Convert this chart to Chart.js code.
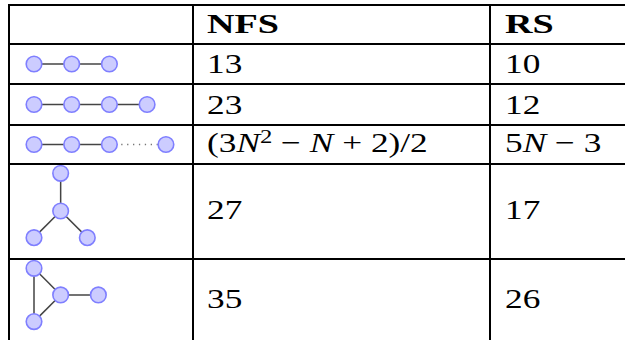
<!DOCTYPE html>
<html>
<head>
<meta charset="utf-8">
<script src="https://cdn.jsdelivr.net/npm/chart.js@4/dist/chart.umd.min.js"></script>
<style>
    body { margin: 0; background: #fff; }
    #sheet { position: relative; width: 625px; height: 340px; overflow: hidden; font-family: "Liberation Serif", serif; }
    .hline { position: absolute; left: 8px; width: 640px; height: 2px; background: #000; z-index: 2; }
    .vline { position: absolute; top: 4px; width: 2px; height: 360px; background: #000; z-index: 2; }
    .cell { position: absolute; font-size: 28px; line-height: 28px; white-space: nowrap; color: #000;
            transform: scaleX(1.26); transform-origin: 0 0; z-index: 3; }
    .cell.head { font-weight: bold; transform: scaleX(1.36); }
    .cell .sup { position: relative; top: -0.45em; font-size: 0.7em; }
    canvas { position: absolute; z-index: 1; }
</style>
</head>
<body>
<div id="sheet"></div>
<script>
const columnHeaders = ['NFS', 'RS'];
const nfsCounts = ['13', '23', '(3N^2 − N + 2)/2', '27', '35'];
const rsCounts = ['10', '12', '5N − 3', '17', '26'];

// small graphs of the first column, node coordinates in edge lengths
const path3Nodes = [[0, 0], [1, 0], [2, 0]];
const path3Edges = [[0, 1], [1, 2]];
const path4Nodes = [[0, 0], [1, 0], [2, 0], [3, 0]];
const path4Edges = [[0, 1], [1, 2], [2, 3]];
const pathNNodes = [[0, 0], [1, 0], [2, 0], [3.5, 0]];
const pathNEdges = [[0, 1], [1, 2]];
const pathNDotted = [[2, 3]];
const starNodes = [[0, 1], [0, 0], [-0.707, -0.707], [0.707, -0.707]];
const starEdges = [[0, 1], [1, 2], [1, 3]];
const triNodes = [[-0.707, 0.707], [0, 0], [1, 0], [-0.707, -0.707]];
const triEdges = [[0, 3], [0, 1], [3, 1], [1, 2]];

const graphs = [
    { nodes: path3Nodes, edges: path3Edges, dotted: [] },
    { nodes: path4Nodes, edges: path4Edges, dotted: [] },
    { nodes: pathNNodes, edges: pathNEdges, dotted: pathNDotted },
    { nodes: starNodes, edges: starEdges, dotted: [] },
    { nodes: triNodes, edges: triEdges, dotted: [] }
];

document.addEventListener('DOMContentLoaded', function() {
    const sheet = document.getElementById('sheet');
    const rowLines = [5, 44, 84, 125, 164, 259, 341];
    const colLines = [9, 193, 490];
    const baselines = [33.5, 73.5, 114, 152, 219.5, 308];
    const unit = 37.7;

    rowLines.forEach(y => {
        const line = document.createElement('div');
        line.className = 'hline';
        line.style.top = (y - 1) + 'px';
        sheet.appendChild(line);
    });
    colLines.forEach(x => {
        const line = document.createElement('div');
        line.className = 'vline';
        line.style.left = (x - 1) + 'px';
        sheet.appendChild(line);
    });

    function formatMath(text) {
        return text.replace(/N/g, '<i>N</i>').replace(/\^2/g, '<span class="sup">2</span>');
    }

    function addText(html, x, baseline, head) {
        const div = document.createElement('div');
        div.className = head ? 'cell head' : 'cell';
        div.innerHTML = html;
        div.style.left = x + 'px';
        div.style.top = (baseline - 23.5) + 'px';
        sheet.appendChild(div);
    }

    addText(columnHeaders[0], 207, baselines[0], true);
    addText(columnHeaders[1], 505, baselines[0], true);
    nfsCounts.forEach((v, i) => addText(formatMath(v), 207, baselines[i + 1], false));
    rsCounts.forEach((v, i) => addText(formatMath(v), 505, baselines[i + 1], false));

    graphs.forEach((g, i) => {
        const top = rowLines[i + 1];
        const h = rowLines[i + 2] - top;
        const w = colLines[1] - colLines[0];
        const canvas = document.createElement('canvas');
        canvas.width = w;
        canvas.height = h;
        canvas.style.left = colLines[0] + 'px';
        canvas.style.top = top + 'px';
        sheet.appendChild(canvas);

        const xs = g.nodes.map(n => n[0]);
        const ys = g.nodes.map(n => n[1]);
        const minX = Math.min(...xs);
        const maxY = Math.max(...ys);
        const minY = Math.min(...ys);
        const xMin = minX - 25 / unit;
        const yMax = (maxY === minY) ? maxY + (h / 2) / unit : maxY + 9.3 / unit;

        const edgeSet = (list, dashed) => list.map(e => ({
            data: [
                { x: g.nodes[e[0]][0], y: g.nodes[e[0]][1] },
                { x: g.nodes[e[1]][0], y: g.nodes[e[1]][1] }
            ],
            showLine: true,
            pointRadius: 0,
            borderColor: dashed ? '#777' : '#444',
            borderWidth: dashed ? 1.3 : 1.5,
            borderDash: dashed ? [1.3, 4.6] : [],
            clip: false
        }));

        new Chart(canvas, {
            type: 'scatter',
            data: {
                datasets: [{
                    data: g.nodes.map(n => ({ x: n[0], y: n[1] })),
                    pointRadius: 7.8,
                    pointBorderWidth: 1.6,
                    pointBackgroundColor: '#ccccff',
                    pointBorderColor: '#7f7fff',
                    clip: false
                }].concat(edgeSet(g.edges, false), edgeSet(g.dotted, true))
            },
            options: {
                responsive: false,
                animation: false,
                layout: { padding: 0, autoPadding: false },
                plugins: { legend: { display: false }, tooltip: { enabled: false } },
                scales: {
                    x: { type: 'linear', display: false, min: xMin, max: xMin + w / unit },
                    y: { type: 'linear', display: false, min: yMax - h / unit, max: yMax }
                }
            }
        });
    });
});
</script>
</body>
</html>
